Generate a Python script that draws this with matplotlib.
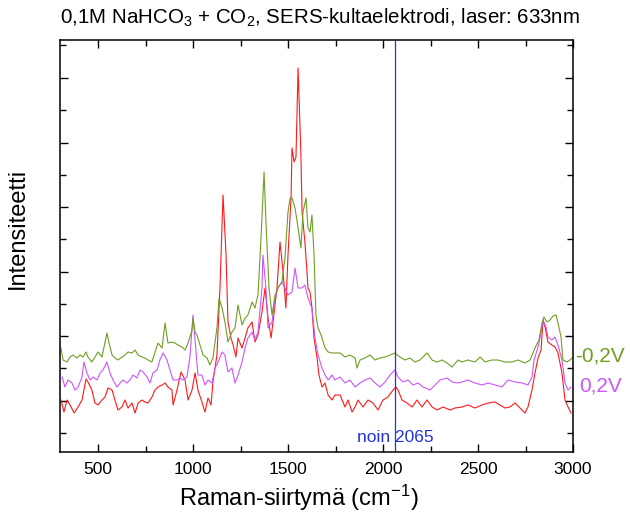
import matplotlib
matplotlib.use("Agg")
import matplotlib.pyplot as plt
from matplotlib.ticker import MultipleLocator, FixedLocator
import numpy as np

plt.rcParams['font.family'] = ['Liberation Sans', 'DejaVu Sans']
plt.rcParams['mathtext.fontset'] = 'custom'
plt.rcParams['mathtext.rm'] = 'Liberation Sans'
plt.rcParams['mathtext.it'] = 'Liberation Sans:italic'

# ---- data (Raman shift cm-1, intensity in arbitrary units) ----
red_x = [305, 321, 337, 353, 374, 395, 416, 437, 447, 468, 484, 500, 521, 537, 553, 574, 589, 605, 626, 642,
         658, 679, 695, 711, 732, 747, 763, 784, 800, 816, 837, 853, 868, 889, 895, 916, 937, 958, 974, 995,
         1011, 1026, 1047, 1063, 1079, 1095, 1105, 1126, 1142, 1158, 1174, 1184, 1200, 1211, 1226, 1237, 1258,
         1274, 1289, 1311, 1326, 1342, 1363, 1379, 1395, 1411, 1421, 1442, 1458, 1474, 1489, 1500, 1516, 1521,
         1532, 1542, 1553, 1568, 1574, 1589, 1600, 1605, 1616, 1626, 1637, 1653, 1663, 1679, 1695, 1711, 1732,
         1747, 1774, 1800, 1816, 1837, 1853, 1868, 1895, 1921, 1947, 1974, 2000, 2026, 2053, 2068, 2079, 2100,
         2126, 2153, 2179, 2205, 2232, 2258, 2284, 2316, 2353, 2379, 2416, 2447, 2484, 2521, 2553, 2589, 2616,
         2642, 2668, 2695, 2721, 2747, 2763, 2784, 2800, 2816, 2832, 2842, 2853, 2868, 2889, 2905, 2921, 2942,
         2958, 2974, 2989]
red_y = [52, 40, 52, 47, 39, 45, 52, 73, 70, 62, 49, 47, 52, 55, 64, 62, 52, 42, 45, 52,
         44, 49, 39, 49, 52, 50, 49, 55, 62, 65, 67, 69, 65, 62, 47, 62, 80, 72, 52, 62,
         79, 62, 50, 40, 54, 47, 70, 97, 164, 257, 197, 130, 114, 107, 95, 114, 104,
         114, 124, 130, 110, 117, 140, 164, 134, 114, 130, 164, 210, 180, 144, 197, 254, 304,
         290, 295, 384, 297, 240, 210, 180, 164, 160, 144, 114, 94, 77, 65, 69, 57, 52,
         57, 57, 45, 52, 40, 45, 52, 45, 52, 49, 42, 52, 55, 62, 65, 62, 52,
         49, 45, 52, 45, 52, 45, 42, 45, 42, 44, 45, 47, 44, 47, 49, 50, 47,
         44, 45, 49, 44, 39, 45, 62, 79, 94, 102, 132, 125, 110, 107, 105, 99, 79,
         52, 45, 39]

mag_x = [311, 326, 342, 363, 379, 395, 416, 426, 442, 458, 474, 495, 511, 526, 547, 563, 579, 600, 616, 632,
         653, 668, 684, 705, 721, 737, 758, 774, 789, 811, 826, 842, 863, 879, 895, 916, 932, 947, 968, 984,
         1000, 1011, 1026, 1047, 1063, 1079, 1100, 1116, 1132, 1153, 1168, 1184, 1205, 1221, 1237, 1258, 1274,
         1289, 1311, 1326, 1342, 1363, 1368, 1384, 1395, 1416, 1432, 1447, 1468, 1484, 1500, 1521, 1537, 1553,
         1574, 1589, 1605, 1626, 1642, 1658, 1679, 1695, 1711, 1732, 1747, 1774, 1800, 1826, 1853, 1879, 1905,
         1932, 1958, 1984, 2011, 2037, 2063, 2079, 2105, 2132, 2158, 2184, 2211, 2247, 2274, 2300, 2337, 2363,
         2395, 2416, 2447, 2484, 2521, 2553, 2589, 2626, 2658, 2695, 2732, 2763, 2784, 2795, 2816, 2832, 2842,
         2858, 2868, 2889, 2905, 2921, 2942, 2958, 2974, 2989]
mag_y = [75, 65, 72, 69, 62, 65, 75, 90, 79, 72, 75, 72, 79, 82, 90, 79, 72, 65, 69, 72,
         69, 72, 77, 74, 82, 80, 75, 69, 79, 82, 92, 99, 92, 82, 72, 72, 74, 72, 75, 95,
         137, 112, 77, 77, 67, 72, 69, 84, 90, 100, 97, 80, 84, 69, 77, 90, 104,
         114, 120, 112, 120, 164, 197, 164, 124, 130, 154, 164, 170, 164, 157, 160, 184, 164,
         164, 167, 154, 144, 114, 97, 84, 77, 72, 77, 72, 75, 69, 72, 65, 69, 72,
         74, 69, 65, 70, 77, 82, 75, 70, 72, 67, 69, 65, 62, 67, 72, 74, 70,
         69, 70, 72, 69, 67, 69, 67, 65, 72, 70, 69, 67, 75, 92, 105, 119, 132,
         125, 115, 112, 115, 107, 92, 69, 62, 65]

grn_x = [305, 316, 337, 353, 368, 389, 405, 421, 437, 447, 468, 484, 500, 521, 532, 547, 558, 574, 589, 605,
         626, 642, 658, 679, 695, 711, 732, 747, 763, 784, 800, 816, 837, 853, 868, 889, 905, 921, 942, 958,
         974, 995, 1000, 1011, 1021, 1037, 1053, 1074, 1089, 1105, 1126, 1137, 1153, 1168, 1184, 1205, 1221,
         1237, 1258, 1274, 1289, 1311, 1326, 1342, 1358, 1374, 1384, 1400, 1416, 1432, 1447, 1468, 1484, 1500,
         1511, 1521, 1537, 1553, 1568, 1579, 1595, 1605, 1616, 1626, 1637, 1647, 1658, 1674, 1695, 1711, 1732,
         1747, 1774, 1800, 1826, 1853, 1863, 1879, 1905, 1932, 1958, 1984, 2011, 2037, 2063, 2089, 2116, 2142,
         2168, 2195, 2232, 2258, 2284, 2311, 2337, 2363, 2395, 2416, 2447, 2484, 2511, 2537, 2574, 2605, 2642,
         2679, 2711, 2747, 2774, 2800, 2821, 2837, 2847, 2863, 2879, 2895, 2911, 2921, 2937, 2947, 2968, 2984,
         2995]
grn_y = [104, 92, 90, 95, 97, 94, 97, 95, 100, 95, 90, 95, 100, 95, 105, 119, 109, 97, 94, 92,
         95, 97, 100, 99, 102, 97, 95, 94, 92, 90, 100, 109, 104, 129, 109, 110, 109, 107, 105, 102,
         109, 122, 134, 120, 117, 107, 97, 94, 87, 94, 124, 154, 144, 130, 110, 120, 124,
         147, 127, 134, 137, 150, 144, 157, 214, 280, 230, 164, 137, 157, 164, 170, 194, 240,
         254, 254, 244, 224, 204, 240, 254, 224, 220, 237, 197, 137, 124, 117, 104, 100, 99,
         99, 99, 95, 97, 94, 84, 92, 94, 97, 92, 94, 95, 97, 99, 95, 92, 94,
         90, 92, 99, 92, 90, 92, 89, 85, 92, 90, 92, 90, 95, 90, 92, 92, 90,
         90, 92, 89, 92, 104, 112, 129, 135, 130, 132, 136, 137, 129, 115, 92, 90, 92,
         94]

series_labels = ['-0,2V', '0,2V']
marker_wn = 2065
marker_text = 'noin 2065'

# ---- figure ----
fig = plt.figure(figsize=(6.30, 5.14), dpi=100)
ax = fig.add_axes([60/630, 62/514, 513/630, 412/514])

c_red = '#ff1a1a'
c_mag = '#cc55ff'
c_grn = '#6f9f22'
c_blue = '#2233dd'

ax.plot(red_x, red_y, color=c_red, lw=0.8)
ax.plot(mag_x, mag_y, color=c_mag, lw=0.8)
ax.plot(grn_x, grn_y, color=c_grn, lw=0.8)
ax.axvline(marker_wn, color=c_blue, lw=0.9)

ax.set_xlim(300, 3000)
ax.set_ylim(0, 412)

ax.xaxis.set_major_locator(MultipleLocator(500))
ax.xaxis.set_minor_locator(MultipleLocator(250))
ymaj = [51 + 64.6 * k for k in range(6)]
ymin_ = [19 + 64.6 * k for k in range(7)]
ax.yaxis.set_major_locator(FixedLocator(ymaj))
ax.yaxis.set_minor_locator(FixedLocator(ymin_))
ax.tick_params(axis='both', which='both', direction='in', top=True, right=True, width=1.0)
ax.tick_params(axis='both', which='major', length=6)
ax.tick_params(axis='both', which='minor', length=4)
ax.tick_params(axis='y', which='both', labelleft=False)
ax.tick_params(axis='x', which='major', labelsize=12.5, pad=7)
for s in ax.spines.values():
    s.set_linewidth(1.1)

ax.text(marker_wn, 14, marker_text, color=c_blue, fontsize=12.5, ha='center', va='center')

ax.text(1.005, 96 / 412, series_labels[0], transform=ax.transAxes, color=c_grn, fontsize=15,
        ha='left', va='center')
ax.text(1.012, 66 / 412, series_labels[1], transform=ax.transAxes, color=c_mag, fontsize=15,
        ha='left', va='center')

fig.text(320 / 630, 1 - 18 / 514, '0,1M NaHCO$_3$ + CO$_2$, SERS-kultaelektrodi, laser: 633nm',
         ha='center', va='center', fontsize=14.8)
fig.text(299 / 630, 1 - 498 / 514, 'Raman-siirtymä (cm$^{-1}$)', ha='center', va='center', fontsize=17)
fig.text(18 / 630, 1 - 228 / 514, 'Intensiteetti', ha='center', va='center', rotation=90, fontsize=17)

fig.savefig('out.png', dpi=100)
